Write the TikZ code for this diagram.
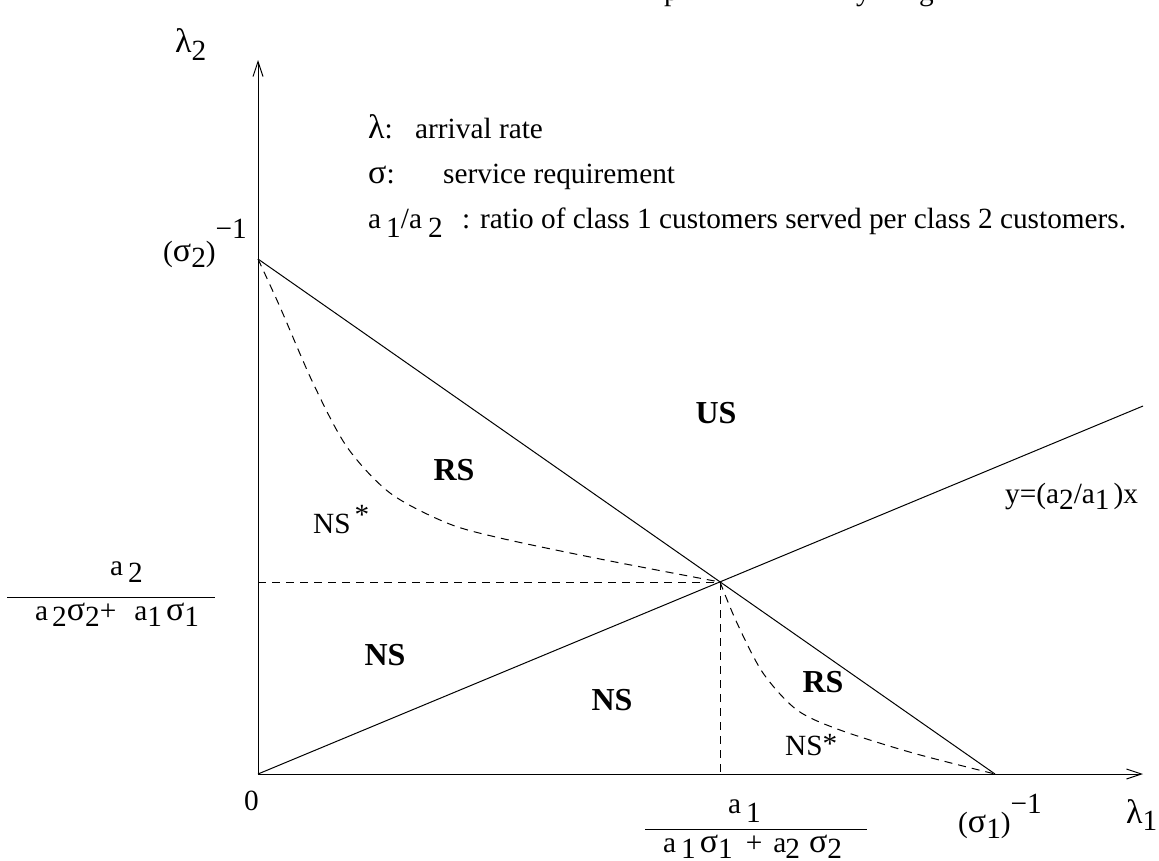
\documentclass[tikz,border=0pt]{standalone}
\usepackage{fontspec}
\setmainfont{Liberation Serif}
\usetikzlibrary{arrows.meta}
\newcommand{\lowd}[2][7pt]{\raisebox{-#1}{#2}}
\newcommand{\gk}[1]{{\fontsize{34}{34}\selectfont #1}}
\begin{document}
\begin{tikzpicture}[x=1pt,y=-1pt,
  lbl/.style={font=\fontsize{29.3}{34}\selectfont, inner sep=0pt, anchor=base west},
  region/.style={font=\fontsize{32}{36}\selectfont\bfseries, inner sep=0pt},
  thinline/.style={line width=1pt},
  dsh/.style={line width=1pt, dash pattern=on 8pt off 6pt},
  axis/.style={line width=1pt, -{Straight Barb[length=15pt,width=10pt,line width=1pt]}}]
\useasboundingbox (0,0) rectangle (1159,860);
\clip (0,0) rectangle (1159,860);

% key points
\coordinate (O) at (258,774);
\coordinate (Ytip) at (258,60);
\coordinate (Xtip) at (1143,774);
\coordinate (S2) at (258,259);
\coordinate (S1) at (995,774);
\coordinate (P) at (720,582);
\coordinate (E) at (1143,406);
\coordinate (H) at (258,582);
\coordinate (V) at (720,774);

% fragments of a line of text above the picture
\node[lbl] (tp) at (664,0) {p};
\node[lbl] (ty) at (856,0) {y};
\node[lbl] (tg) at (919,0) {g};

% axes
\draw[axis] (O) -- (Ytip);
\draw[axis] (O) -- (Xtip);

% solid lines
\draw[thinline] (S2) -- (S1);
\draw[thinline] (O) -- (E);

% dashed lines
\draw[dsh] (H) -- (P);
\draw[dsh] (P) -- (V);
\draw[dsh] plot[smooth] coordinates {(S2) (280,307) (313,383) (347,447) (390,493) (447,523) (500,538) (600,559) (P)};
\draw[dsh] plot[smooth] coordinates {(P) (737,623) (763,673) (797,710) (840,730) (913,753) (S1)};

% legend
\node[lbl] (lam) at (368,138) {\gk{λ}:};
\node[lbl] (lamt) at (415,138) {arrival rate};
\node[lbl] (sig) at (368,183) {\gk{σ}:};
\node[lbl] (sigt) at (443,183) {service requirement};
\node[lbl] (rat) at (368,228) {a\hspace{5pt}\lowd[9pt]{1}/a\hspace{6pt}\lowd[9pt]{2}};
\node[lbl] (ratt) at (462,228) {: ratio of class 1 customers served per class 2 customers.};

% axis labels
\node[lbl] (lam2) at (175,52) {\gk{λ}\lowd[8pt]{2}};
\node[lbl] (lam1) at (1126,823) {\gk{λ}\lowd[7pt]{1}};
\node[lbl] (zero) at (244,810) {0};
\node[lbl] (s2l) at (163,261) {(\gk{σ}\lowd[6pt]{2})\raisebox{23pt}{−1}};
\node[lbl] (s1l) at (958,832) {(\gk{σ}\lowd[6pt]{1})\raisebox{19pt}{−1}};

% left fraction
\node[lbl] (fln) at (110,575) {a\hspace{5pt}\lowd[7pt]{2}};
\coordinate (flA) at (7,597);
\coordinate (flB) at (215,597);
\draw[thinline] (flA) -- (flB);
\node[lbl] (fld) at (35,620) {a\hspace{4pt}\lowd[6pt]{2}\gk{σ}\lowd[6pt]{2}+\hspace{18pt}a\lowd[6pt]{1}\hspace{4pt}\gk{σ}\lowd[6pt]{1}};

% bottom fraction
\node[lbl] (fbn) at (728,813) {a\hspace{5pt}\lowd[9pt]{1}};
\coordinate (fbA) at (645,829);
\coordinate (fbB) at (867,829);
\draw[thinline] (fbA) -- (fbB);
\node[lbl] (fbd) at (663,852) {a\hspace{5pt}\lowd[6pt]{1}\hspace{4pt}\gk{σ}\lowd[6pt]{1}\hspace{13pt}+\hspace{11pt}a\hspace{-1pt}\lowd[6pt]{2}\hspace{9pt}\gk{σ}\lowd[6pt]{2}};

% line label
\node[lbl] (yl) at (1005,503) {y=(a\lowd[6pt]{2}/a\lowd[6pt]{1}\hspace{4pt})x};

% regions
\node[region] (US) at (716,413) {US};
\node[region] (RSu) at (454,470) {RS};
\node[region] (NSl) at (385,655) {NS};
\node[region] (NSm) at (612,700) {NS};
\node[region] (RSl) at (823,682) {RS};
\node[lbl] (NSsu) at (313,533) {NS\hspace{4pt}\raisebox{9pt}{*}};
\node[lbl] (NSsl) at (785,755) {NS\raisebox{2pt}{*}};
\end{tikzpicture}
\end{document}
